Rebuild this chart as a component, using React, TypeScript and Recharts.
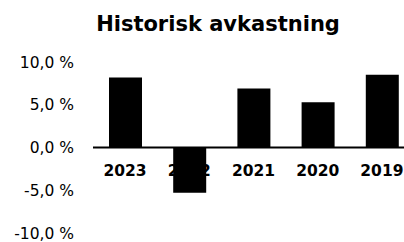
import { BarChart, Bar, XAxis, YAxis, ReferenceLine } from "recharts";

const years = ["2023", "2022", "2021", "2020", "2019"];
const returns = [8.2, -5.3, 6.9, 5.3, 8.5];
const yTicks = [-10, -5, 0, 5, 10];

const data = years.map((year, i) => ({ year, value: returns[i] }));

const font = "'DejaVu Sans', Verdana, sans-serif";

const fmtPct = (v: number) => `${v.toFixed(1).replace(".", ",")} %`;

// x labels sit just under the zero line, not at the bottom of the plot
function YearTick({ x, payload }: any) {
  return (
    <text x={x} y={171} textAnchor="middle" dominantBaseline="central" fontFamily={font} fontWeight="bold" fontSize={15.5} fill="#000">
      {payload.value}
    </text>
  );
}

export default function App() {
  return (
    <div style={{ position: "fixed", top: 0, left: 0, width: 404, height: 242, overflow: "hidden", background: "#fff" }}>
      <div
        style={{
          position: "absolute",
          top: 13,
          left: 0,
          width: 436,
          textAlign: "center",
          fontFamily: font,
          fontWeight: "bold",
          fontSize: 21,
          lineHeight: "22px",
          color: "#000",
        }}
      >
        Historisk avkastning
      </div>
      <BarChart width={420} height={242} data={data} margin={{ top: 62, right: 6, left: 13, bottom: 0 }}>
        <XAxis dataKey="year" axisLine={false} tickLine={false} height={9} interval={0} tick={<YearTick />} />
        <YAxis
          domain={[-10, 10]}
          ticks={yTicks}
          width={80}
          axisLine={false}
          tickLine={false}
          tickMargin={13}
          tickFormatter={fmtPct}
          tick={{ fontSize: 15.5, fill: "#000", fontFamily: font }}
        />
        <ReferenceLine y={0} stroke="#000" strokeWidth={2} />
        <Bar dataKey="value" fill="#000" barSize={33} isAnimationActive={false} />
      </BarChart>
    </div>
  );
}
